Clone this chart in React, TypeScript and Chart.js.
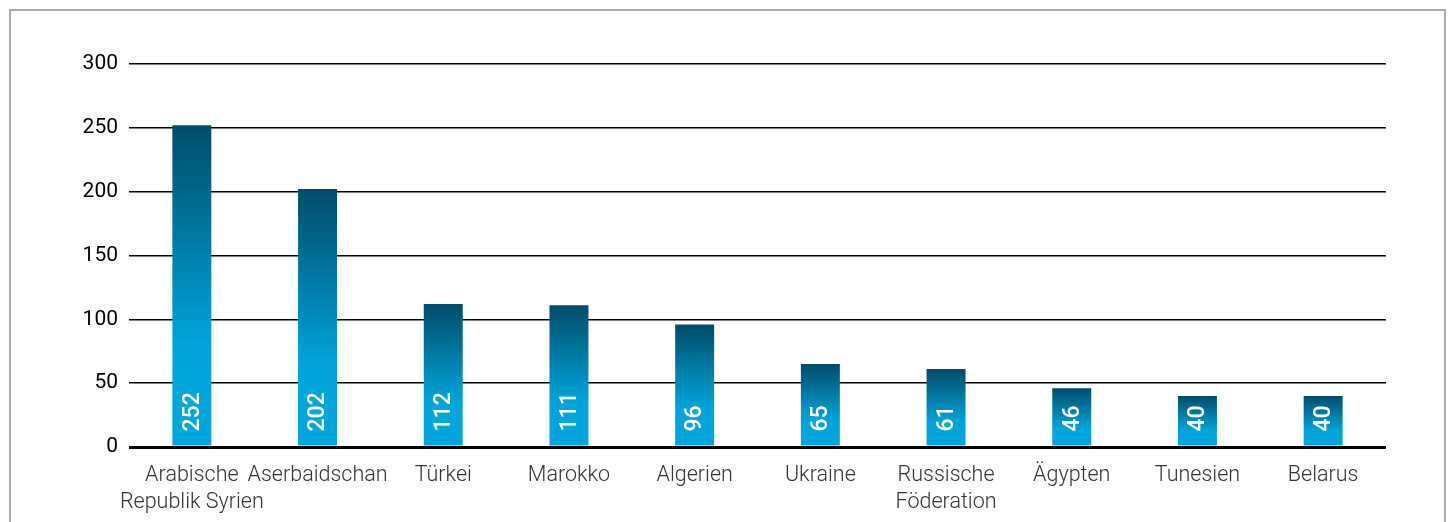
import React, { useEffect, useRef } from "react";
import { Chart, registerables } from "chart.js";

Chart.register(...registerables);

const categories: (string | string[])[] = [
  ["Arabische", "Republik Syrien"],
  "Aserbaidschan",
  "Türkei",
  "Marokko",
  "Algerien",
  "Ukraine",
  ["Russische", "Föderation"],
  "Ägypten",
  "Tunesien",
  "Belarus",
];
const values: number[] = [252, 202, 112, 111, 96, 65, 61, 46, 40, 40];
const yTicks = { min: 0, max: 300, step: 50 };

const valueLabelPlugin = {
  id: "valueLabels",
  afterDatasetsDraw(chart: any) {
    const meta = chart.getDatasetMeta(0);
    const ctx = chart.ctx;
    ctx.save();
    ctx.fillStyle = "#ffffff";
    ctx.font = "500 23px Roboto";
    ctx.textAlign = "left";
    ctx.textBaseline = "middle";
    meta.data.forEach((bar: any, i: number) => {
      ctx.save();
      ctx.translate(bar.x + 1, bar.base - 14);
      ctx.rotate(-Math.PI / 2);
      ctx.fillText(String(values[i]), 0, 0);
      ctx.restore();
    });
    ctx.restore();
  },
};

export default function App() {
  const ref = useRef<HTMLCanvasElement>(null);
  useEffect(() => {
    if (!ref.current) return;
    const chart = new Chart(ref.current, {
      type: "bar",
      data: {
        labels: categories,
        datasets: [
          {
            data: values,
            barPercentage: 0.31,
            categoryPercentage: 1,
            backgroundColor: (c: any) => {
              const chart = c.chart;
              const ys = chart.scales?.y;
              if (!chart.chartArea || !ys || c.raw === undefined) return "#0090c4";
              const top = ys.getPixelForValue(c.raw);
              const bottom = ys.getPixelForValue(0);
              const g = chart.ctx.createLinearGradient(0, top, 0, bottom);
              g.addColorStop(0, "#004c69");
              g.addColorStop(0.68, "#00a4db");
              g.addColorStop(1, "#00a6dc");
              return g;
            },
            borderWidth: 0,
          },
        ],
      },
      options: {
        responsive: false,
        animation: false,
        layout: { padding: { top: 64, right: 64, left: 0, bottom: 0 } },
        plugins: { legend: { display: false }, tooltip: { enabled: false } },
        scales: {
          x: {
            grid: { display: false, drawTicks: false },
            border: { display: false },
            ticks: {
              color: "#333333",
              font: { family: "Roboto", size: 21.5, weight: 300 as any, lineHeight: 1.25 },
              padding: 15,
              maxRotation: 0,
              autoSkip: false,
            },
            afterFit: (s: any) => {
              s.height = 75;
            },
          },
          y: {
            min: yTicks.min,
            max: yTicks.max,
            grid: {
              color: "#000000",
              lineWidth: (c: any) => (c.tick && c.tick.value === 0 ? 3 : 1.4),
              drawTicks: false,
            },
            border: { display: false },
            ticks: {
              stepSize: yTicks.step,
              color: "#000000",
              font: { family: "Roboto", size: 21 },
              padding: 11,
            },
            afterFit: (s: any) => {
              s.width = 129;
            },
          },
        },
      },
      plugins: [valueLabelPlugin],
    });
    return () => chart.destroy();
  }, []);
  return (
    <div style={{ position: "relative", width: 1434, height: 514 }}>
      <canvas
        ref={ref}
        width={1450}
        height={522}
        style={{ position: "fixed", left: 0, top: 0, width: 1450, height: 522 }}
      />
      <div
        style={{
          position: "fixed",
          left: 9,
          top: 9,
          width: 1433,
          height: 520,
          border: "2px solid #aaaaaa",
          borderBottom: "none",
          pointerEvents: "none",
        }}
      />
    </div>
  );
}
